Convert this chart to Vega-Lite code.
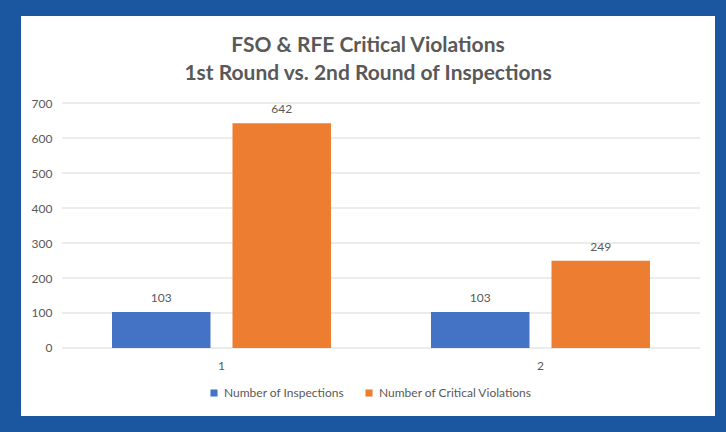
{
  "$schema": "https://vega.github.io/schema/vega-lite/v6.json",
  "width": 694,
  "height": 400,
  "autosize": {"type": "none"},
  "padding": {"left": 21, "top": 16, "right": 11, "bottom": 16},
  "background": "#1b56a0",
  "config": {
    "view": {"fill": "white", "stroke": null},
    "font": "Lato"
  },
  "title": {
    "text": ["FSO & RFE Critical Violations", "1st Round vs. 2nd Round of Inspections"],
    "font": "Lato",
    "fontSize": 21,
    "fontWeight": "bold",
    "color": "#595959",
    "anchor": "middle",
    "frame": "group",
    "offset": -85,
    "lineHeight": 28,
    "baseline": "alphabetic"
  },
  "datasets": {
    "bars": [
      {"round": "1", "series": "Number of Inspections", "value": 103},
      {"round": "1", "series": "Number of Critical Violations", "value": 642},
      {"round": "2", "series": "Number of Inspections", "value": 103},
      {"round": "2", "series": "Number of Critical Violations", "value": 249}
    ],
    "grid": [
      {"value": 0}, {"value": 100}, {"value": 200}, {"value": 300},
      {"value": 400}, {"value": 500}, {"value": 600}, {"value": 700}
    ]
  },
  "layer": [
    {
      "data": {"name": "grid"},
      "mark": {"type": "rule", "color": "#d9d9d9", "strokeWidth": 1},
      "encoding": {
        "y": {
          "field": "value", "type": "quantitative",
          "scale": {"domain": [-194.3, 948.6], "nice": false, "zero": false},
          "axis": {"title": null, "values": [0, 100, 200, 300, 400, 500, 600, 700], "grid": false, "domain": false, "ticks": false, "offset": -33, "labelPadding": 2, "labelFontSize": 12, "labelColor": "#595959", "labelFont": "Lato"}
        },
        "x": {
          "datum": "1", "type": "nominal", "bandPosition": 0,
          "scale": {"domain": ["1", "2"], "paddingInner": 0, "paddingOuter": 0.0878, "align": 0.732},
          "axis": {"title": null, "domain": false, "ticks": false, "offset": -68, "labelPadding": 12, "labelFontSize": 12, "labelColor": "#595959", "labelAngle": 0, "labelFont": "Lato"}
        },
        "x2": {"datum": "2", "bandPosition": 1}
      }
    },
    {
      "data": {"name": "bars"},
      "mark": {"type": "bar"},
      "encoding": {
        "x": {
          "field": "round", "type": "nominal",
          "scale": {"domain": ["1", "2"], "paddingInner": 0, "paddingOuter": 0.0878, "align": 0.732},
          "axis": {"title": null, "domain": false, "ticks": false, "offset": -68, "labelPadding": 12, "labelFontSize": 12, "labelColor": "#595959", "labelAngle": 0, "labelFont": "Lato"}
        },
        "xOffset": {
          "field": "series", "type": "nominal",
          "scale": {"domain": ["Number of Inspections", "Number of Critical Violations"], "paddingInner": 0.1826, "paddingOuter": 0.415}
        },
        "y": {
          "field": "value", "type": "quantitative",
          "scale": {"domain": [-194.3, 948.6], "nice": false, "zero": false},
          "axis": {"title": null, "values": [0, 100, 200, 300, 400, 500, 600, 700], "grid": false, "domain": false, "ticks": false, "offset": -33, "labelPadding": 2, "labelFontSize": 12, "labelColor": "#595959", "labelFont": "Lato"}
        },
        "y2": {"datum": 0},
        "color": {
          "field": "series", "type": "nominal",
          "scale": {"domain": ["Number of Inspections", "Number of Critical Violations"], "range": ["#4472c4", "#ed7d31"]},
          "legend": {
            "title": null, "orient": "none", "legendX": 187, "legendY": 371,
            "direction": "horizontal", "symbolType": "square", "symbolSize": 50,
            "labelFontSize": 12, "labelColor": "#595959", "labelFont": "Lato",
            "columnPadding": 18, "symbolOpacity": 1
          }
        }
      }
    },
    {
      "data": {"name": "bars"},
      "mark": {"type": "text", "baseline": "bottom", "dy": -7, "fontSize": 12, "color": "#595959", "font": "Lato"},
      "encoding": {
        "x": {"field": "round", "type": "nominal"},
        "xOffset": {"field": "series", "type": "nominal"},
        "y": {"field": "value", "type": "quantitative"},
        "text": {"field": "value", "type": "quantitative"}
      }
    }
  ]
}
